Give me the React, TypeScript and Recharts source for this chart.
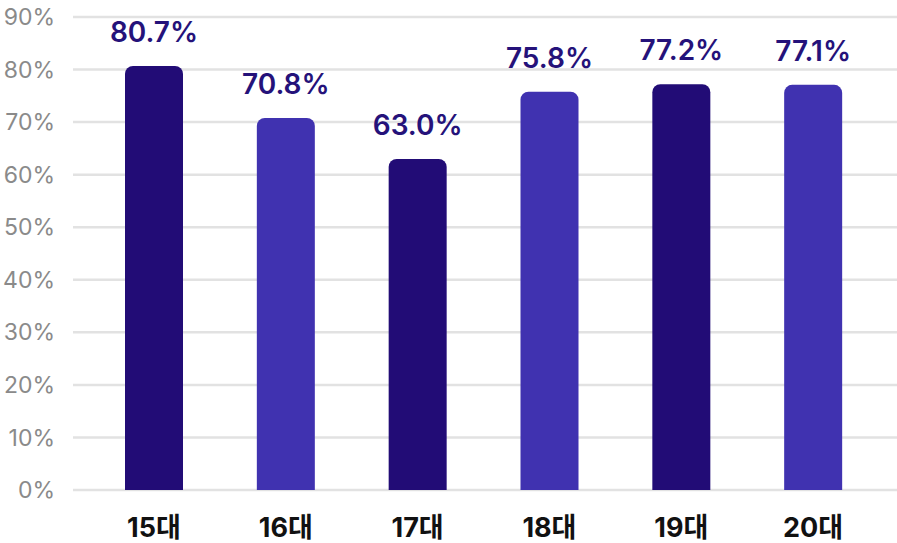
import React from 'react';
import { BarChart, Bar, XAxis, YAxis, CartesianGrid, LabelList, Cell } from 'recharts';

const categories = ['15대', '16대', '17대', '18대', '19대', '20대'];
const turnout = [80.7, 70.8, 63.0, 75.8, 77.2, 77.1];
const yTicks = [0, 10, 20, 30, 40, 50, 60, 70, 80, 90];

const DARK = '#220c76';
const LIGHT = '#4032b0';

const data = categories.map((name, i) => ({ name, value: turnout[i] }));

export default function App() {
  return (
    <div style={{ position: 'absolute', left: 0, top: 0, background: '#fff', fontFamily: "Inter, 'Noto Sans CJK KR', sans-serif" }}>
      <BarChart width={897} height={543} data={data} margin={{ top: 17, right: 0, bottom: 0, left: 0 }}>
        <CartesianGrid vertical={false} stroke="#e2e2e2" strokeWidth={2.5} />
        <XAxis
          dataKey="name"
          axisLine={false}
          tickLine={false}
          height={53}
          tickMargin={22}
          padding={{ left: 15, right: 18 }}
          tick={{ fill: '#111', fontSize: 27, fontWeight: 700 }}
        />
        <YAxis
          domain={[0, 90]}
          ticks={yTicks}
          width={73}
          axisLine={false}
          tickLine={false}
          tickMargin={12}
          tickFormatter={(v: number) => `${v}%`}
          tick={{ fill: '#8a8a8a', fontSize: 23 }}
        />
        <Bar dataKey="value" barSize={58} radius={[8, 8, 0, 0]} isAnimationActive={false}>
          {data.map((d, i) => (
            <Cell key={d.name} fill={i % 2 === 0 ? DARK : LIGHT} />
          ))}
          <LabelList
            dataKey="value"
            position="top"
            offset={24}
            formatter={(v: number) => `${v.toFixed(1)}%`}
            style={{ fill: '#25127a', fontSize: 28, fontWeight: 600 }}
          />
        </Bar>
      </BarChart>
    </div>
  );
}
